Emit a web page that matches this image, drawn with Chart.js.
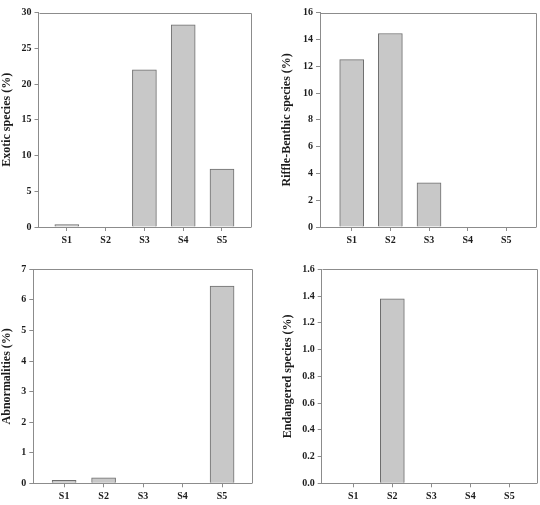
<!DOCTYPE html>
<html>
<head>
<meta charset="utf-8">
<script src="https://cdn.jsdelivr.net/npm/chart.js@4/dist/chart.umd.min.js"></script>
<style>
  html, body { margin: 0; padding: 0; background: #ffffff; }
  #wrap { position: relative; width: 540px; height: 505px; overflow: hidden; }
  canvas { position: absolute; }
</style>
</head>
<body>
<div id="wrap">
  <canvas id="c1" width="270" height="250" style="left:0px;top:0px"></canvas>
  <canvas id="c2" width="270" height="250" style="left:270px;top:0px"></canvas>
  <canvas id="c3" width="270" height="255" style="left:0px;top:250px"></canvas>
  <canvas id="c4" width="270" height="255" style="left:270px;top:250px"></canvas>
</div>
<script>
// ---- data ----
const categories = ['S1', 'S2', 'S3', 'S4', 'S5'];
const exoticSpecies = [0.35, 0, 22.0, 28.3, 8.1];
const riffleBenthicSpecies = [12.5, 14.45, 3.3, 0, 0];
const abnormalities = [0.1, 0.18, 0, 0, 6.45];
const endangeredSpecies = [0, 1.38, 0, 0, 0];
const yTitles = ['Exotic species (%)', 'Riffle-Benthic species (%)', 'Abnormalities (%)', 'Endangered species (%)'];
const yMax = [30, 16, 7, 1.6];
const yStep = [5, 2, 1, 0.2];
const yDecimals = [0, 0, 0, 1];

// ---- style ----
const AXIS = '#8c8c8c';
const TEXT = '#1c1c1c';
const FONT = 'Liberation Serif';

const boxPlugin = {
  id: 'box',
  afterDraw(chart) {
    const a = chart.chartArea, ctx = chart.ctx;
    ctx.save();
    ctx.strokeStyle = AXIS;
    ctx.lineWidth = 1;
    ctx.beginPath();
    ctx.moveTo(Math.round(a.left) + 0.5, Math.round(a.top) + 0.5);
    ctx.lineTo(Math.round(a.right) + 0.5, Math.round(a.top) + 0.5);
    ctx.lineTo(Math.round(a.right) + 0.5, Math.round(a.bottom) + 0.5);
    ctx.stroke();
    ctx.restore();
  }
};

const panels = [
  { id: 'c1', values: exoticSpecies, k: 0, xmin: 0.27, xmax: 5.74, yW: 38.5, padL: 0, padR: 19.3, padT: 12.7, xH: 23 },
  { id: 'c2', values: riffleBenthicSpecies, k: 1, xmin: 0.18, xmax: 5.76, yW: 40, padL: 10, padR: 4.3, padT: 12.7, xH: 23 },
  { id: 'c3', values: abnormalities, k: 2, xmin: 0.22, xmax: 5.75, yW: 33.3, padL: 0, padR: 18.3, padT: 19.3, xH: 21.7 },
  { id: 'c4', values: endangeredSpecies, k: 3, xmin: 0.19, xmax: 5.70, yW: 40.7, padL: 11, padR: 3.3, padT: 19.3, xH: 21.7 }
];

panels.forEach(p => {
  const k = p.k;
  new Chart(document.getElementById(p.id), {
    type: 'bar',
    data: {
      datasets: [{
        data: categories.map((c, i) => ({ x: i + 1, y: p.values[i] })),
        backgroundColor: '#c8c8c8',
        borderColor: '#6e6e6e',
        borderWidth: 1,
        borderSkipped: 'start',
        barThickness: 24
      }]
    },
    options: {
      responsive: false,
      animation: false,
      devicePixelRatio: 1,
      layout: { padding: { left: p.padL, right: p.padR, top: p.padT, bottom: 0 } },
      plugins: { legend: { display: false }, tooltip: { enabled: false } },
      scales: {
        x: {
          type: 'linear',
          offset: false,
          min: p.xmin,
          max: p.xmax,
          afterBuildTicks(scale) { scale.ticks = categories.map((c, i) => ({ value: i + 1 })); },
          afterFit(scale) { scale.height = p.xH; },
          ticks: {
            callback: (v) => categories[Math.round(v) - 1],
            font: { family: FONT, size: 10, weight: 'bold' },
            color: TEXT,
            padding: 3,
            maxRotation: 0
          },
          grid: { offset: false, drawOnChartArea: false, drawTicks: true, tickLength: 4, color: AXIS },
          border: { color: AXIS, width: 1 }
        },
        y: {
          min: 0,
          max: yMax[k],
          afterFit(scale) { scale.width = p.yW; },
          ticks: {
            stepSize: yStep[k],
            callback: (v) => Number(v).toFixed(yDecimals[k]),
            font: { family: FONT, size: 10, weight: 'bold' },
            color: TEXT,
            padding: 3
          },
          grid: { drawOnChartArea: false, drawTicks: true, tickLength: 4, color: AXIS },
          border: { color: AXIS, width: 1 },
          title: {
            display: true,
            text: yTitles[k],
            font: { family: FONT, size: 12, weight: 'bold' },
            color: TEXT,
            padding: { top: 0, bottom: 0 }
          }
        }
      }
    },
    plugins: [boxPlugin]
  });
});
</script>
</body>
</html>
